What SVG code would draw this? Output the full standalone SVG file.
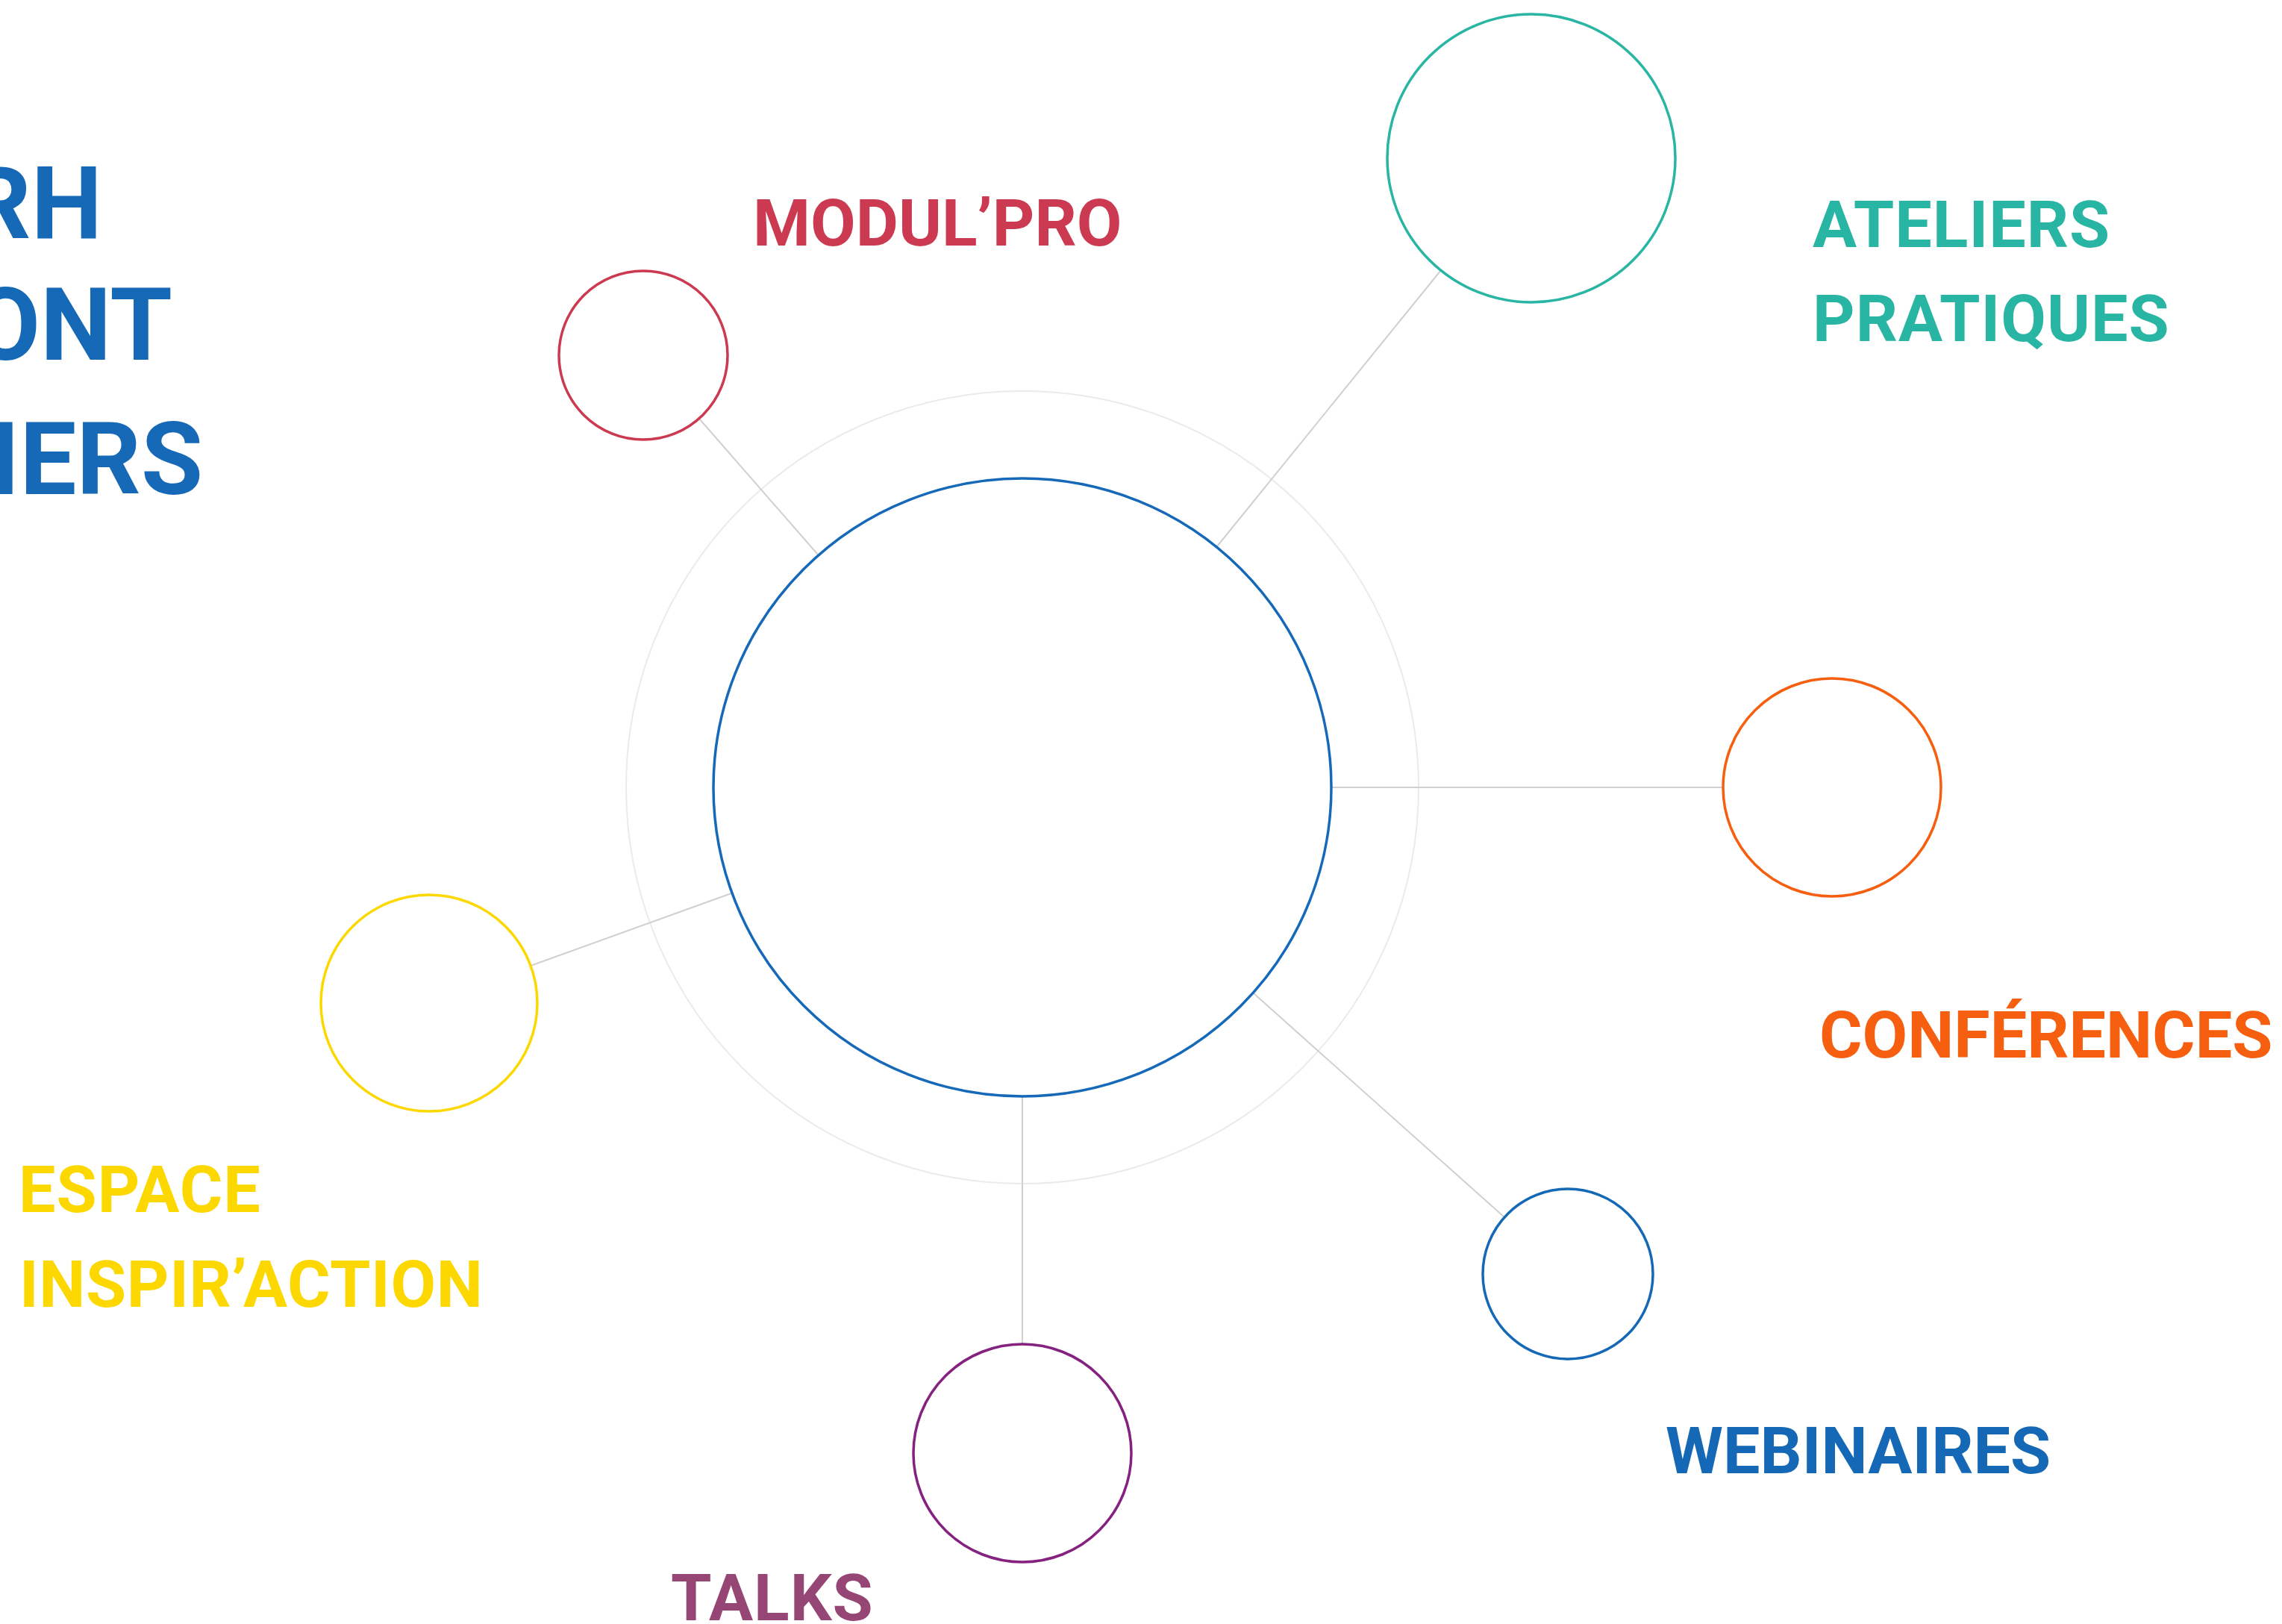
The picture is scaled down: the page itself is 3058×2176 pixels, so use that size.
<svg xmlns="http://www.w3.org/2000/svg" width="3058" height="2176" viewBox="0 0 3058 2176">
<style>
text{font-family:Roboto,"Liberation Sans",sans-serif;font-weight:700}
.lbl{font-size:88px;letter-spacing:1px}
.tight{letter-spacing:0}
.title{font-size:135px;fill:#1569b6}
.node{fill:none;stroke-width:3.5}
.conn line{stroke:#d0d0d0;stroke-width:2}
</style>
<rect width="3058" height="2176" fill="#ffffff"/>
<g id="title">
<text class="title" x="137" y="320" text-anchor="end">RH</text>
<text class="title" x="231" y="482" text-anchor="end">ONT</text>
<text class="title" x="272" y="662" text-anchor="end">IERS</text>
</g>
<g id="ring"><circle cx="1370" cy="1055" r="531" fill="none" stroke="#ebebeb" stroke-width="2"/></g>
<g id="connectors" class="conn">
<line x1="1096" y1="743" x2="937" y2="561"/>
<line x1="1631" y1="732" x2="1931" y2="362"/>
<line x1="1785" y1="1055" x2="2309" y2="1055"/>
<line x1="1680" y1="1331" x2="2016" y2="1631"/>
<line x1="1370" y1="1470" x2="1370" y2="1801"/>
<line x1="980" y1="1197" x2="711" y2="1294"/>
</g>
<g id="center"><circle class="node" cx="1370" cy="1055" r="414" stroke="#1569b8"/></g>
<g id="modulpro">
<circle class="node" cx="862" cy="476" r="113" stroke="#cc3a51"/>
<text class="lbl tight" x="1009" y="329" fill="#cc3a51">MODUL’PRO</text>
</g>
<g id="ateliers">
<circle class="node" cx="2052" cy="212" r="193" stroke="#28b5a4"/>
<text class="lbl" x="2429" y="331" fill="#28b5a4">ATELIERS</text>
<text class="lbl" x="2429" y="457" fill="#28b5a4">PRATIQUES</text>
</g>
<g id="conferences">
<circle class="node" cx="2455" cy="1055" r="146" stroke="#f55f0f"/>
<text class="lbl tight" x="2438" y="1417" fill="#f55f0f">CONFÉRENCES</text>
</g>
<g id="webinaires">
<circle class="node" cx="2101" cy="1707" r="114" stroke="#1568b5"/>
<text class="lbl tight" x="2232" y="1974" fill="#1568b5">WEBINAIRES</text>
</g>
<g id="talks">
<circle class="node" cx="1370" cy="1947" r="146" stroke="#85217f"/>
<text class="lbl" x="899" y="2171" fill="#954675">TALKS</text>
</g>
<g id="espace">
<circle class="node" cx="575" cy="1344" r="145" stroke="#fdd800"/>
<text class="lbl" x="25" y="1624" fill="#fdd800">ESPACE</text>
<text class="lbl" x="26" y="1751" fill="#fdd800" style="letter-spacing:0.6px">INSPIR’ACTION</text>
</g>
</svg>
